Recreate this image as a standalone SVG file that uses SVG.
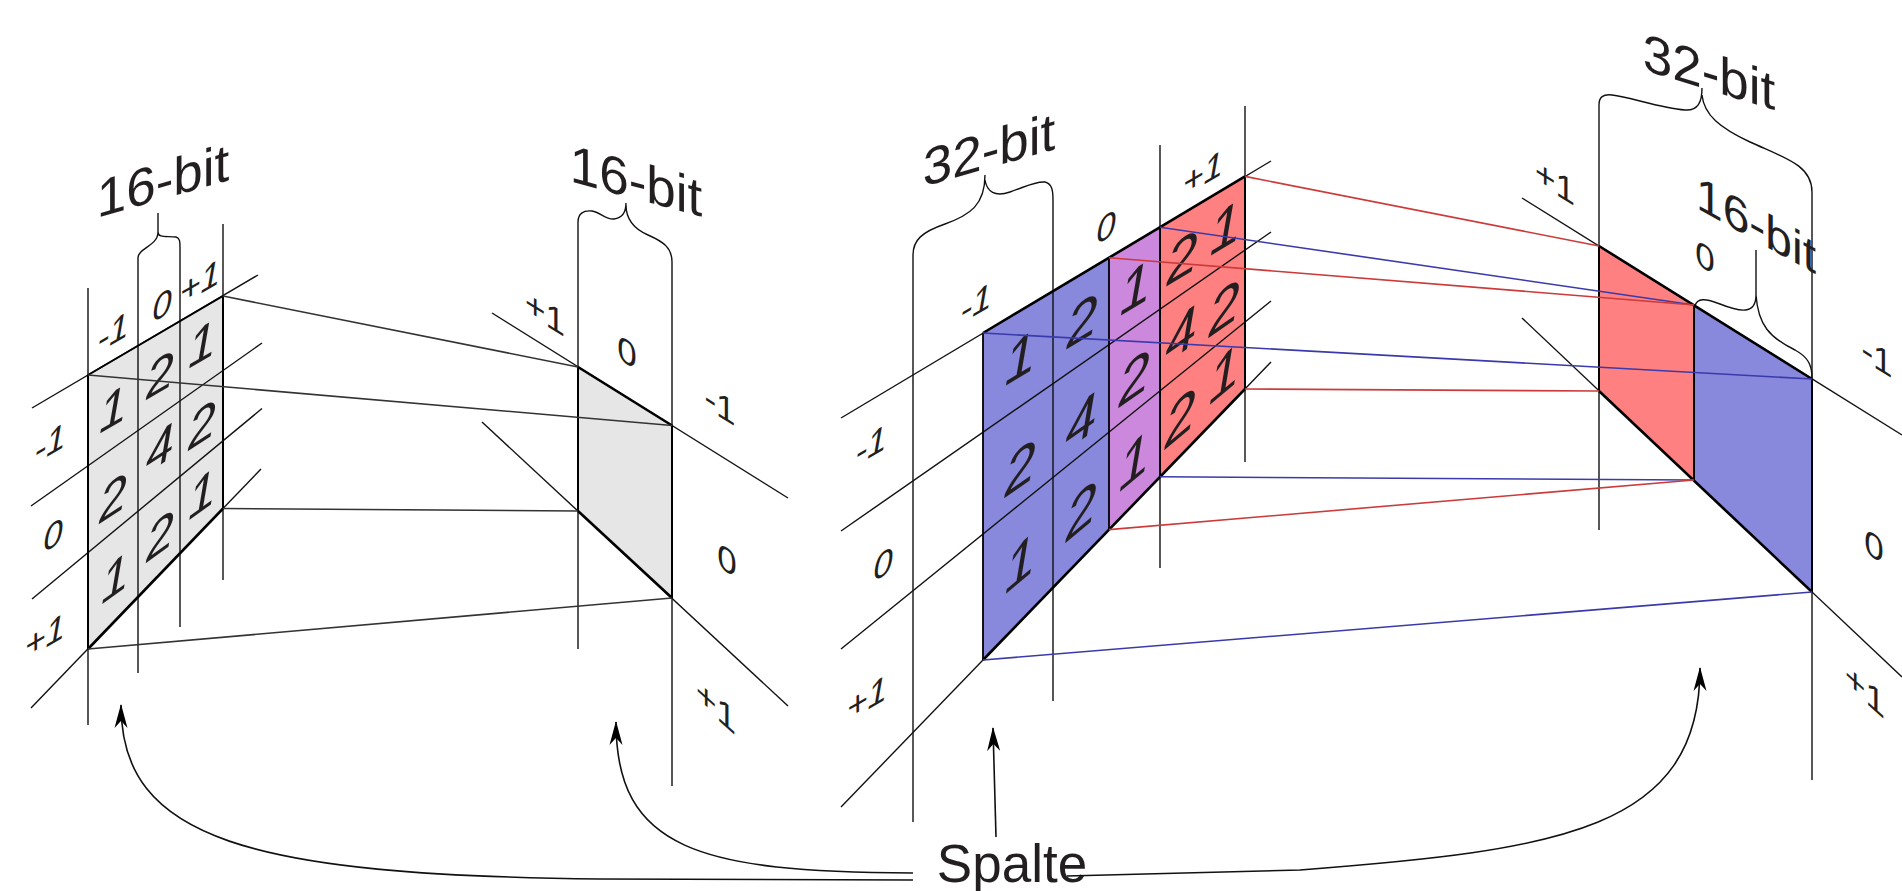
<svg xmlns="http://www.w3.org/2000/svg" width="1902" height="891" viewBox="0 0 1902 891">
<style>
.ln{stroke:#111;stroke-width:1.4;fill:none}
.thk{stroke:#000;stroke-width:2.6;fill:none}
.cg{stroke:#333;stroke-width:1.6;fill:none}
.cr{stroke:#cc3a3a;stroke-width:1.6;fill:none}
.cb{stroke:#3a3aaa;stroke-width:1.6;fill:none}
.gray{fill:#e6e6e6}
.blue{fill:#8888dd}
.purple{fill:#cc88dd}
.red{fill:#ff8080}
text{font-family:"Liberation Sans",Arial,sans-serif;fill:#231f20;text-anchor:middle}
.t{font-size:53px}
.d{font-size:50px;font-style:italic}
.D{font-size:56px;font-style:italic}
.a{font-size:35px}
.ai{font-size:35px;font-style:italic}
.arr{stroke:#111;stroke-width:1.6;fill:none;marker-end:url(#ah)}
</style>
<defs>
<marker id="ah" viewBox="-24 -8 26 16" markerWidth="26" markerHeight="16" refX="0" refY="0" orient="auto" markerUnits="userSpaceOnUse">
<path d="M1,0 L-23,-6.5 Q-17,-1 -16,0 Q-17,1 -23,6.5 Z" fill="#000"/>
</marker>
</defs>

<g id="panel-left">
<polygon class="gray" points="88,375 223,296 223,508.5 88,649"/>
<line class="ln" x1="88" y1="288" x2="88" y2="725"/>
<line class="ln" x1="223" y1="224" x2="223" y2="580"/>
<path class="ln" d="M138,673 V258 C138,248 158,246 158,232 V213 M158,232 C158,238 166,236 176,237 C180,238 180,242 180,248 V627"/>
<line class="ln" x1="32" y1="408" x2="258" y2="275"/>
<line class="ln" x1="31" y1="506" x2="262" y2="343"/>
<line class="ln" x1="32" y1="599" x2="262" y2="408.5"/>
<line class="ln" x1="31" y1="708" x2="261" y2="469"/>
<polyline class="thk" style="stroke-width:2" points="88,375 223,296"/>
<polyline class="thk" points="223,508.5 88,649"/>
<line class="thk" style="stroke-width:2" x1="88" y1="375" x2="88" y2="649"/>
<line class="thk" style="stroke-width:2" x1="223" y1="296" x2="223" y2="508.5"/>
<text class="t" transform="translate(163,199) skewY(-16)">16-bit</text>
<text class="ai" transform="translate(113,332) skewY(-30)" y="12">-1</text>
<text class="ai" transform="translate(162,305) skewY(-30)" y="12">0</text>
<text class="ai" transform="translate(200,282) skewY(-30)" y="12">+1</text>
<text class="ai" transform="translate(50,443) skewY(-30)" y="12">-1</text>
<text class="ai" transform="translate(53,535) skewY(-30)" y="12">0</text>
<text class="ai" transform="translate(45,636) skewY(-30)" y="12">+1</text>
<text class="d" transform="translate(113,408) skewY(-30)" y="18">1</text>
<text class="d" transform="translate(113,497) skewY(-33)" y="18">2</text>
<text class="d" transform="translate(115,577) skewY(-36)" y="18">1</text>
<text class="d" transform="translate(160,374) skewY(-30)" y="18">2</text>
<text class="d" transform="translate(160,447) skewY(-33)" y="18">4</text>
<text class="d" transform="translate(160,535) skewY(-36)" y="18">2</text>
<text class="d" transform="translate(202,343) skewY(-30)" y="18">1</text>
<text class="d" transform="translate(202,424) skewY(-33)" y="18">2</text>
<text class="d" transform="translate(202,493) skewY(-36)" y="18">1</text>
</g>

<g id="panel-mid-left">
<polygon class="gray" points="578,367 672,425.5 672,598 578,511"/>
<path class="ln" d="M578,649 V222 C578,214 583,210 592,211 C600,212 606,220 614,219 C622,218 626,212 626,203 M626,205 C626,218 632,228 648,235 C664,242 672,248 672,262 V786"/>
<line class="ln" x1="492" y1="313" x2="788" y2="498"/>
<line class="ln" x1="482" y1="422" x2="788" y2="706"/>
<line class="thk" x1="578" y1="367" x2="672" y2="425.5"/>
<line class="thk" x1="578" y1="511" x2="672" y2="598"/>
<line class="thk" style="stroke-width:2" x1="578" y1="367" x2="578" y2="511"/>
<line class="thk" style="stroke-width:2" x1="672" y1="425.5" x2="672" y2="598"/>
<text class="t" transform="translate(636,199) skewY(15)">16-bit</text>
<text class="a" transform="translate(545,313) skewY(32)" y="12">+1</text>
<text class="a" transform="translate(627,352) skewY(32)" y="12">0</text>
<text class="a" transform="translate(720,405) skewY(32)" y="12">-1</text>
<text class="a" transform="translate(727,560) skewY(32)" y="12">0</text>
<text class="a" transform="translate(716,706) skewY(42)" y="12">+1</text>
</g>

<g id="panel-mid-right">
<polygon class="blue" points="983,333 1109,257.7 1109,529.6 983,660"/>
<polygon class="purple" points="1109,257.7 1160,227.2 1160,476.8 1109,529.6"/>
<polygon class="red" points="1160,227.2 1245,176.4 1245,389 1160,476.8"/>
<path class="ln" d="M913,822 V255 C913,240 922,232 945,224 C970,215 985,205 985,175 M985,180 C987,192 995,197 1010,192 C1025,187 1035,181 1045,182 C1052,184 1053,190 1053,200 V701"/>
<line class="ln" x1="1160" y1="145" x2="1160" y2="568"/>
<line class="ln" x1="1245" y1="106" x2="1245" y2="462"/>
<line class="ln" x1="841" y1="418" x2="1271" y2="161"/>
<line class="ln" x1="841" y1="531" x2="1271" y2="232"/>
<line class="ln" x1="841" y1="649" x2="1271" y2="301"/>
<line class="ln" x1="841" y1="807" x2="1271" y2="362"/>
<line class="thk" x1="983" y1="333" x2="1245" y2="176.4"/>
<line class="thk" x1="983" y1="660" x2="1245" y2="389"/>
<line class="thk" style="stroke-width:1.8" x1="983" y1="333" x2="983" y2="660"/>
<line class="thk" style="stroke-width:1.8" x1="1109" y1="257.7" x2="1109" y2="529.6"/>
<line class="thk" style="stroke-width:1.8" x1="1160" y1="227.2" x2="1160" y2="476.8"/>
<line class="thk" style="stroke-width:2" x1="1245" y1="176.4" x2="1245" y2="389"/>
<text class="t" transform="translate(989,168) skewY(-16)">32-bit</text>
<text class="ai" transform="translate(976,303) skewY(-30)" y="12">-1</text>
<text class="ai" transform="translate(1106,227) skewY(-30)" y="12">0</text>
<text class="ai" transform="translate(1203,173) skewY(-30)" y="12">+1</text>
<text class="ai" transform="translate(871,445) skewY(-30)" y="12">-1</text>
<text class="ai" transform="translate(883,564) skewY(-30)" y="12">0</text>
<text class="ai" transform="translate(867,698) skewY(-30)" y="12">+1</text>
<text class="D" transform="translate(1020,357) skewY(-31)" y="20">1</text>
<text class="D" transform="translate(1020,467) skewY(-35)" y="20">2</text>
<text class="D" transform="translate(1020,562) skewY(-40)" y="20">1</text>
<text class="D" transform="translate(1082,320) skewY(-31)" y="20">2</text>
<text class="D" transform="translate(1081,420) skewY(-35)" y="20">4</text>
<text class="D" transform="translate(1081,510) skewY(-40)" y="20">2</text>
<text class="D" transform="translate(1135,287) skewY(-31)" y="20">1</text>
<text class="D" transform="translate(1134,377) skewY(-35)" y="20">2</text>
<text class="D" transform="translate(1134,460) skewY(-40)" y="20">1</text>
<text class="D" transform="translate(1182,257) skewY(-31)" y="20">2</text>
<text class="D" transform="translate(1181,333) skewY(-35)" y="20">4</text>
<text class="D" transform="translate(1180,417) skewY(-40)" y="20">2</text>
<text class="D" transform="translate(1225,227) skewY(-31)" y="20">1</text>
<text class="D" transform="translate(1224,307) skewY(-35)" y="20">2</text>
<text class="D" transform="translate(1224,373) skewY(-40)" y="20">1</text>
</g>

<g id="panel-right">
<polygon class="red" points="1599,246 1694,305 1694,480 1599,391"/>
<polygon class="blue" points="1694,305 1812,379 1812,592 1694,480"/>
<path class="ln" d="M1599,530 V105 C1599,97 1603,94 1612,95 C1630,97 1660,108 1685,110 C1698,111 1702,102 1702,88 M1702,95 C1704,115 1720,128 1750,142 C1785,158 1812,165 1812,192 V780"/>
<path class="ln" d="M1695,306 C1697,298 1705,298 1720,304 C1740,312 1756,315 1756,295 V250 M1756,295 C1758,325 1770,338 1795,350 C1808,357 1812,365 1812,378"/>
<line class="ln" x1="1522" y1="198" x2="1902" y2="435"/>
<line class="ln" x1="1522" y1="318" x2="1902" y2="677"/>
<line class="thk" x1="1599" y1="246" x2="1812" y2="379"/>
<line class="thk" x1="1599" y1="391" x2="1812" y2="592"/>
<line class="thk" style="stroke-width:2" x1="1599" y1="246" x2="1599" y2="391"/>
<line class="thk" style="stroke-width:2" x1="1694" y1="305" x2="1694" y2="480"/>
<line class="thk" style="stroke-width:2" x1="1812" y1="379" x2="1812" y2="592"/>
<text class="t" transform="translate(1709,90) skewY(17)">32-bit</text>
<text class="t" style="font-size:48px" transform="translate(1756,241) skewY(29)">16-bit</text>
<text class="a" transform="translate(1555,182) skewY(32)" y="12">+1</text>
<text class="a" transform="translate(1705,257) skewY(32)" y="12">0</text>
<text class="a" transform="translate(1877,357) skewY(32)" y="12">-1</text>
<text class="a" transform="translate(1874,546) skewY(32)" y="12">0</text>
<text class="a" transform="translate(1865,690) skewY(42)" y="12">+1</text>
</g>

<g id="label-spalte">
<text class="t" x="1012" y="882">Spalte</text>
</g>

<g id="connectors">
<line class="cg" x1="223" y1="296" x2="578" y2="367"/>
<line class="cg" x1="88" y1="375" x2="672" y2="425.5"/>
<line class="cg" x1="223" y1="508.5" x2="578" y2="511"/>
<line class="cg" x1="88" y1="649" x2="672" y2="598"/>
<line class="cr" x1="1245" y1="176.4" x2="1599" y2="246"/>
<line class="cb" x1="1160" y1="227.2" x2="1694" y2="305"/>
<line class="cr" x1="1109" y1="257.7" x2="1694" y2="305"/>
<line class="cb" x1="983" y1="333" x2="1812" y2="379"/>
<line class="cr" x1="1245" y1="389" x2="1599" y2="391"/>
<line class="cb" x1="1160" y1="476.8" x2="1694" y2="480"/>
<line class="cr" x1="1109" y1="529.6" x2="1694" y2="480"/>
<line class="cb" x1="983" y1="660" x2="1812" y2="592"/>
<path class="arr" d="M913,880 L600,879 C250,875 121,840 121,705"/>
<path class="arr" d="M913,873 C700,872 616,850 616,722"/>
<path class="arr" d="M996,837 L993,728"/>
<path class="arr" d="M1067,876 L1300,870 C1560,850 1700,830 1700,668"/>
</g>
</svg>
